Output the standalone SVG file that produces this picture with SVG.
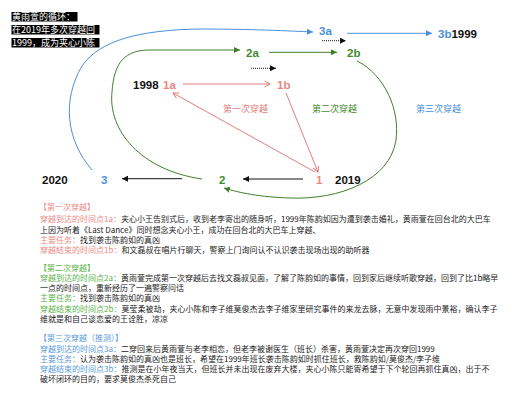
<svg xmlns="http://www.w3.org/2000/svg" width="532" height="400" viewBox="0 0 532 400">
<style>
.t{font-family:"Liberation Sans","Noto Sans CJK SC",sans-serif}
.c{font-family:"Noto Sans CJK SC","Liberation Sans",sans-serif}
.lab{font-size:11.5px;font-weight:bold}
.yr{font-size:11.5px;font-weight:bold;fill:#111}
.red{fill:#e58883}.grn{fill:#3f8a2e}.blu{fill:#4a90d9}
.body{font-size:8px;fill:#222}
.rl{fill:#ec8a86}.gl{fill:#5cb34a}.bl{fill:#5b9bdc}
</style>
<defs>
<marker id="aB" markerUnits="userSpaceOnUse" markerWidth="7" markerHeight="6" refX="6" refY="3" orient="auto"><path d="M0,0 L6,3 L0,6 z" fill="#111"/></marker>
<marker id="aBl" markerUnits="userSpaceOnUse" markerWidth="7" markerHeight="6" refX="6" refY="3" orient="auto"><path d="M0,0 L6,3 L0,6 z" fill="#4a90d9"/></marker>
<marker id="aG" markerUnits="userSpaceOnUse" markerWidth="7" markerHeight="6" refX="6" refY="3" orient="auto"><path d="M0,0 L6,3 L0,6 z" fill="#3f7f2a"/></marker>
<marker id="aR" markerUnits="userSpaceOnUse" markerWidth="8" markerHeight="8" refX="6" refY="3.5" orient="auto"><path d="M0.5,0.5 L6,3.5 L0.5,6.5" fill="none" stroke="#e07d78" stroke-width="1"/></marker>
</defs>

<g id="title">
<rect x="11.5" y="12" width="66" height="9.5" fill="#000"/>
<rect x="11.5" y="25" width="88" height="9.5" fill="#000"/>
<rect x="11.5" y="38" width="88" height="9.5" fill="#000"/>
<text class="c" x="12" y="20.3" font-size="9" fill="#fff">黄雨萱的循环：</text>
<text class="c" x="12" y="33.3" font-size="9" fill="#fff">在2019年多次穿越回</text>
<text class="c" x="12" y="46.3" font-size="9" fill="#fff">1999，成为夹心小陈</text>
</g>

<g id="connectors" fill="none">
<path d="M92 170 C66 140 62 100 82 66 C100 40 140 30 200 29 C250 29 290 31 313 32" stroke="#4a90d9" stroke-width="1" marker-end="url(#aBl)"/>
<line x1="347" y1="33.3" x2="432" y2="33.3" stroke="#4a90d9" stroke-width="1" marker-end="url(#aBl)"/>
<line x1="322" y1="40.7" x2="346" y2="40.7" stroke="#111" stroke-width="1" stroke-dasharray="1,1" marker-end="url(#aB)"/>
<path d="M202 179 C140 170 108 130 112 92 C114 62 125 50 150 50 L240 50" stroke="#3f7f2a" stroke-width="1" marker-end="url(#aG)"/>
<line x1="269" y1="52.3" x2="337" y2="52.3" stroke="#3f7f2a" stroke-width="1" marker-end="url(#aG)"/>
<line x1="251" y1="68.3" x2="276" y2="68.3" stroke="#111" stroke-width="1" stroke-dasharray="1,1" marker-end="url(#aB)"/>
<path d="M357 61 C385 75 400 110 396 140 C390 180 340 200 290 198 C260 197 240 193 224 188" stroke="#3f7f2a" stroke-width="1" marker-end="url(#aG)"/>
<line x1="183" y1="84" x2="270" y2="84" stroke="#e07d78" stroke-width="1" marker-end="url(#aR)"/>
<line x1="286" y1="93" x2="318" y2="172" stroke="#e07d78" stroke-width="1" marker-end="url(#aR)"/>
<line x1="315" y1="172" x2="173" y2="93" stroke="#e07d78" stroke-width="1" marker-end="url(#aR)"/>
<line x1="303" y1="179" x2="243" y2="179" stroke="#111" stroke-width="1" marker-end="url(#aB)"/>
<line x1="182" y1="178.7" x2="122" y2="178.7" stroke="#111" stroke-width="1" marker-end="url(#aB)"/>
</g>

<g id="node-3a"><text class="t lab blu" x="319" y="35">3a</text></g>
<g id="node-3b"><text class="t lab" x="438" y="38"><tspan class="blu">3b</tspan><tspan fill="#111">1999</tspan></text></g>
<g id="node-2a"><text class="t lab grn" x="246" y="57">2a</text></g>
<g id="node-2b"><text class="t lab grn" x="347" y="57">2b</text></g>
<g id="node-1a"><text class="t yr" x="133" y="88.5">1998</text><text class="t lab red" x="163" y="88.5">1a</text></g>
<g id="node-1b"><text class="t lab red" x="277" y="88.5">1b</text></g>
<g id="node-2020"><text class="t yr" x="42" y="183.5">2020</text></g>
<g id="node-3"><text class="t lab blu" x="101" y="183.5">3</text></g>
<g id="node-2"><text class="t lab grn" x="219" y="183.5">2</text></g>
<g id="node-1"><text class="t lab red" x="316" y="183.5">1</text><text class="t yr" x="335" y="183.5">2019</text></g>

<g id="labels">
<text class="c" x="223" y="112" font-size="9" fill="#e07d78">第一次穿越</text>
<text class="c" x="312" y="112" font-size="9" fill="#3f8a2e">第二次穿越</text>
<text class="c" x="416" y="112" font-size="9" fill="#4a90d9">第三次穿越</text>
</g>

<g id="notes" class="c">
<text class="body rl" x="39" y="210">【第一次穿越】</text>
<text class="body" x="40" y="222"><tspan class="rl">穿越到达的时间点1a：</tspan>夹心小王告别式后，收到老李寄出的随身听，1999年陈韵如因为遭到袭击婚礼，黄雨萱在回台北的大巴车</text>
<text class="body" x="40" y="232.5">上因为听着《Last Dance》同时想念夹心小王，成功在回台北的大巴车上穿越、</text>
<text class="body" x="40" y="243"><tspan class="rl">主要任务：</tspan>找到袭击陈韵如的真凶</text>
<text class="body" x="40" y="253"><tspan class="rl">穿越结束的时间点1b：</tspan>和文磊叔在唱片行聊天，警察上门询问认不认识袭击现场出现的助听器</text>

<text class="body gl" x="39" y="271">【第二次穿越】</text>
<text class="body" x="40" y="280.5"><tspan class="gl">穿越到达的时间点2a：</tspan>黄雨萱完成第一次穿越后去找文磊叔见面，了解了陈韵如的事情，回到家后继续听歌穿越，回到了比1b略早</text>
<text class="body" x="40" y="291">一点的时间点，重新经历了一遍警察问话</text>
<text class="body" x="40" y="301"><tspan class="gl">主要任务：</tspan>找到袭击陈韵如的真凶</text>
<text class="body" x="40" y="311.5"><tspan class="gl">穿越结束的时间点2b：</tspan>莫莹柔被劫，夹心小陈和李子维莫俊杰去李子维家里研究事件的来龙去脉，无意中发现雨中景裕，确认李子</text>
<text class="body" x="40" y="322">维就是和自己谈恋爱的王诠胜，凉凉</text>

<text class="body bl" x="39" y="341">【第三次穿越（推测）】</text>
<text class="body" x="40" y="351.5"><tspan class="bl">穿越到达的时间点3a：</tspan>二穿回来后黄雨萱与老李相恋，但老李被谢医生（班长）杀害，黄雨萱决定再次穿回1999</text>
<text class="body" x="40" y="362"><tspan class="bl">主要任务：</tspan>认为袭击陈韵如的真凶也是班长，希望在1999年班长袭击陈韵如时抓住班长，救陈韵如/莫俊杰/李子维</text>
<text class="body" x="40" y="372"><tspan class="bl">穿越结束的时间点3b：</tspan>推测是在小年夜当天，但班长并未出现在废弃大楼，夹心小陈只能寄希望于下个轮回再抓住真凶，出于不</text>
<text class="body" x="40" y="382">破坏闭环的目的，要求莫俊杰杀死自己</text>
</g>
</svg>
